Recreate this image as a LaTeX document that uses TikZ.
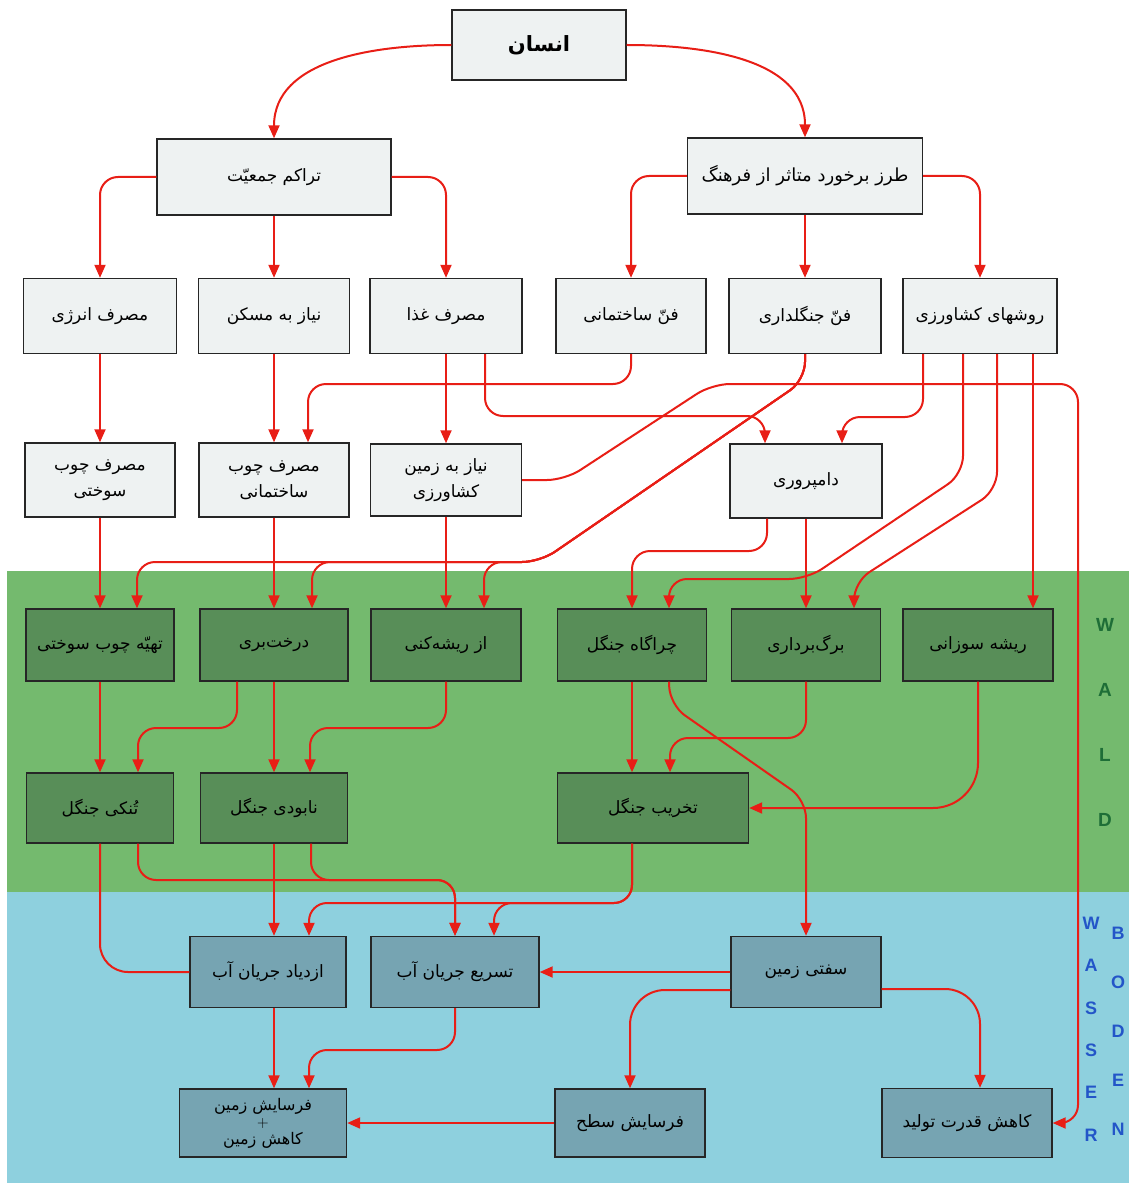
\documentclass[tikz,border=0pt]{standalone}
\usepackage{fontspec}
\setsansfont{Liberation Sans}
\newfontfamily\fafont[Script=Arabic]{DejaVu Sans}
\usetikzlibrary{arrows.meta}
\TeXXeTstate=1
\newcommand{\fa}[1]{{\fafont\beginR #1\endR}}

\definecolor{linkred}{RGB}{232,30,22}
\definecolor{waldbg}{RGB}{116,186,110}
\definecolor{waldbox}{RGB}{88,142,88}
\definecolor{wasserbg}{RGB}{142,208,222}
\definecolor{wasserbox}{RGB}{118,164,178}
\definecolor{paperbox}{RGB}{238,242,242}
\definecolor{waldtext}{RGB}{30,110,55}
\definecolor{wassertext}{RGB}{35,85,200}

\begin{document}
\begin{tikzpicture}[x=1pt,y=-1pt,
  whitebox/.style={draw=black!85,line width=1.4pt,fill=paperbox,minimum width=150pt,
    minimum height=74pt,inner sep=2pt,align=center,font=\fontsize{17}{26}\selectfont},
  greenbox/.style={whitebox,fill=waldbox},
  bluebox/.style={whitebox,fill=wasserbox},
  link/.style={draw=linkred,line width=2pt,rounded corners=18pt,-{Triangle[width=11pt,length=13pt]}},
  plainlink/.style={link,-},
  bandword/.style={font=\sffamily\bfseries\fontsize{19}{65}\selectfont,align=center}]
\useasboundingbox (0,0) rectangle (1129,1185);

% Bands
\fill[waldbg] (7,571) rectangle (1129,892);
\fill[wasserbg] (7,892) rectangle (1129,1183);
\node[bandword,text=waldtext] (wald) at (1105,722) {W\\A\\L\\D};
\node[bandword,text=wassertext,font=\sffamily\bfseries\fontsize{18}{42.4}\selectfont] (wasser) at (1091,1029) {W\\A\\S\\S\\E\\R};
\node[bandword,text=wassertext,font=\sffamily\bfseries\fontsize{18}{49}\selectfont] (boden) at (1118,1031) {B\\O\\D\\E\\N};

% Top
\node[whitebox,minimum width=174pt,minimum height=70pt,font=\bfseries\fontsize{21}{24}\selectfont] (insan) at (539,45) {\fa{انسان}};
\node[whitebox,minimum width=234pt,minimum height=76pt] (tarakom) at (274,177) {\fa{تراکم جمعیّت}};
\node[whitebox,minimum width=235pt,minimum height=76pt,font=\fontsize{18}{24}\selectfont] (tarz) at (805,176) {\fa{طرز برخورد متاثر از فرهنگ}};

% Needs and techniques
\node[whitebox,minimum width=153pt,minimum height=75pt] (energy) at (100,316) {\fa{مصرف انرژی}};
\node[whitebox,minimum width=151pt,minimum height=75pt] (maskan) at (274,316) {\fa{نیاز به مسکن}};
\node[whitebox,minimum width=152pt,minimum height=75pt] (ghaza) at (446,316) {\fa{مصرف غذا}};
\node[whitebox,minimum height=75pt] (fanSakht) at (631,316) {\fa{فنّ ساختمانی}};
\node[whitebox,minimum width=152pt,minimum height=75pt] (fanJangal) at (805,316) {\fa{فنّ جنگلداری}};
\node[whitebox,minimum width=154pt,minimum height=75pt] (raveshha) at (980,316) {\fa{روشهای کشاورزی}};

\node[whitebox] (chubSukht) at (100,480) {\fa{مصرف چوب}\\\fa{سوختی}};
\node[whitebox] (chubSakht) at (274,480) {\fa{مصرف چوب}\\\fa{ساختمانی}};
\node[whitebox,minimum width=151pt,minimum height=72pt] (zaminKesh) at (446,480) {\fa{نیاز به زمین}\\\fa{کشاورزی}};
\node[whitebox,minimum width=152pt] (dampar) at (806,481) {\fa{دامپروری}};

% Forest
\node[greenbox,minimum width=148pt,minimum height=72pt] (tahie) at (100,645) {\fa{تهیّه چوب سوختی}};
\node[greenbox,minimum width=148pt,minimum height=72pt] (derakht) at (274,645) {\fa{درخت‌بری}};
\node[greenbox,minimum height=72pt] (risheKani) at (446,645) {\fa{از ریشه‌کنی}};
\node[greenbox,minimum width=149pt,minimum height=72pt] (charagah) at (632,645) {\fa{چراگاه جنگل}};
\node[greenbox,minimum width=149pt,minimum height=72pt] (barg) at (806,645) {\fa{برگ‌برداری}};
\node[greenbox,minimum height=72pt] (risheSuz) at (978,645) {\fa{ریشه سوزانی}};

\node[greenbox,minimum width=147pt,minimum height=70pt] (tonoki) at (100,808) {\fa{تُنکی جنگل}};
\node[greenbox,minimum width=147pt,minimum height=70pt] (nabudi) at (274,808) {\fa{نابودی جنگل}};
\node[greenbox,minimum width=191pt,minimum height=70pt] (takhrib) at (653,808) {\fa{تخریب جنگل}};

% Water and soil
\node[bluebox,minimum width=156pt,minimum height=71pt] (ezdiad) at (268,972) {\fa{ازدیاد جریان آب}};
\node[bluebox,minimum width=168pt,minimum height=71pt] (tasri) at (455,972) {\fa{تسریع جریان آب}};
\node[bluebox,minimum height=71pt] (sefti) at (806,972) {\fa{سفتی زمین}};

\node[bluebox,minimum width=167pt,minimum height=68pt,font=\fontsize{16}{17}\selectfont] (farsayeshZamin) at (263,1123) {\fa{فرسایش زمین}\\+\\\fa{کاهش زمین}};
\node[bluebox,minimum height=68pt] (farsayeshSath) at (630,1123) {\fa{فرسایش سطح}};
\node[bluebox,minimum width=170pt,minimum height=69pt] (kahesh) at (967,1123) {\fa{کاهش قدرت تولید}};

% Turning points
\coordinate (ghazaTurn) at (600,416);
\coordinate (sakhtTurn) at (450,384);
\coordinate (kesh1) at (565,480);
\coordinate (kesh2) at (712,384);
\coordinate (kesh3) at (1078,384);
\coordinate (kesh4) at (1078,1123);
\coordinate (jangal1) at (805,380);
\coordinate (jangal2) at (540,562);
\coordinate (ravesh1) at (880,417);
\coordinate (ravesh2) at (963,474);
\coordinate (ravesh3) at (807,579);
\coordinate (ravesh4) at (997,490);
\coordinate (ravesh5) at (854,582);
\coordinate (damTurn) at (700,551);
\coordinate (chara1) at (670,705);
\coordinate (chara2) at (806,800);
\coordinate (bargTurn) at (740,738);
\coordinate (derakhtTurn) at (190,728);
\coordinate (risheTurn) at (380,728);
\coordinate (flowTurn) at (400,880);
\coordinate (takhribTurn) at (560,903);
\coordinate (tasriTurn) at (380,1050);

% Links
\draw[link] (insan.west) to[out=180,in=90] (tarakom.north);
\draw[link] (insan.east) to[out=0,in=90] (tarz.north);

\draw[link] (tarakom.west) -| (energy.north);
\draw[link] (tarakom.south) -- (tarakom.south |- maskan.north);
\draw[link] (tarakom.east) -| (ghaza.north);
\draw[link] (tarz.west) -| (fanSakht.north);
\draw[link] (tarz.south) -- (tarz.south |- fanJangal.north);
\draw[link] (tarz.east) -| (raveshha.north);

\draw[link] (energy.south) -- (energy.south |- chubSukht.north);
\draw[link] (maskan.south) -- (maskan.south |- chubSakht.north);
\draw[link] (ghaza.south) -- (ghaza.south |- zaminKesh.north);
\draw[link] ([xshift=39pt]ghaza.south) |- (ghazaTurn) -| ([xshift=-41pt]dampar.north);
\draw[link] (fanSakht.south) |- (sakhtTurn) -| ([xshift=34pt]chubSakht.north);
\draw[link] (zaminKesh.east) -- (kesh1) -- (kesh2) -- (kesh3) -- (kesh4) -- (kahesh.east);

\draw[link] (fanJangal.south) -- (jangal1) -- (jangal2) -| ([xshift=37pt]tahie.north);
\draw[link] (fanJangal.south) -- (jangal1) -- (jangal2) -| ([xshift=38pt]derakht.north);
\draw[link] (fanJangal.south) -- (jangal1) -- (jangal2) -| ([xshift=38pt]risheKani.north);

\draw[link] ([xshift=-57pt]raveshha.south) |- (ravesh1) -| ([xshift=36pt]dampar.north);
\draw[link] ([xshift=-17pt]raveshha.south) -- (ravesh2) -- (ravesh3) -| ([xshift=37pt]charagah.north);
\draw[link] ([xshift=17pt]raveshha.south) -- (ravesh4) -- (ravesh5) -- ([xshift=48pt]barg.north);
\draw[link] ([xshift=53pt]raveshha.south) -- ([xshift=53pt]raveshha.south |- risheSuz.north);

\draw[link] ([xshift=-39pt]dampar.south) |- (damTurn) -| (charagah.north);
\draw[link] (dampar.south) -- (dampar.south |- barg.north);

\draw[link] (chubSukht.south) -- (chubSukht.south |- tahie.north);
\draw[link] (chubSakht.south) -- (chubSakht.south |- derakht.north);
\draw[link] (zaminKesh.south) -- (zaminKesh.south |- risheKani.north);

\draw[link] (tahie.south) -- (tahie.south |- tonoki.north);
\draw[link] ([xshift=-37pt]derakht.south) |- (derakhtTurn) -| ([xshift=38pt]tonoki.north);
\draw[link] (derakht.south) -- (derakht.south |- nabudi.north);
\draw[link] (risheKani.south) |- (risheTurn) -| ([xshift=36pt]nabudi.north);
\draw[link] (charagah.south) -- (charagah.south |- takhrib.north);
\draw[link] ([xshift=37pt]charagah.south) -- (chara1) -- (chara2) -- (sefti.north);
\draw[link] (barg.south) |- (bargTurn) -| ([xshift=17pt]takhrib.north);
\draw[link,rounded corners=45pt] (risheSuz.south) |- (takhrib.east);

\draw[plainlink,rounded corners=28pt] (tonoki.south) |- (ezdiad.west);
\draw[link] ([xshift=38pt]tonoki.south) |- (flowTurn) -| (tasri.north);
\draw[link] ([xshift=37pt]nabudi.south) |- (flowTurn) -| (tasri.north);
\draw[link] (nabudi.south) -- (nabudi.south |- ezdiad.north);
\draw[link] ([xshift=-21pt]takhrib.south) |- (takhribTurn) -| ([xshift=41pt]ezdiad.north);
\draw[link] ([xshift=-21pt]takhrib.south) |- (takhribTurn) -| ([xshift=39pt]tasri.north);

\draw[link] ([xshift=6pt]ezdiad.south) -- ([xshift=6pt]ezdiad.south |- farsayeshZamin.north);
\draw[link] (tasri.south) |- (tasriTurn) -| ([xshift=46pt]farsayeshZamin.north);
\draw[link] (sefti.west) -- (tasri.east);
\draw[link,rounded corners=35pt] ([yshift=-18pt]sefti.west) -| (farsayeshSath.north);
\draw[link,rounded corners=35pt] ([yshift=-17pt]sefti.east) -| ([xshift=13pt]kahesh.north);
\draw[link] (farsayeshSath.west) -- (farsayeshZamin.east);
\end{tikzpicture}
\end{document}
